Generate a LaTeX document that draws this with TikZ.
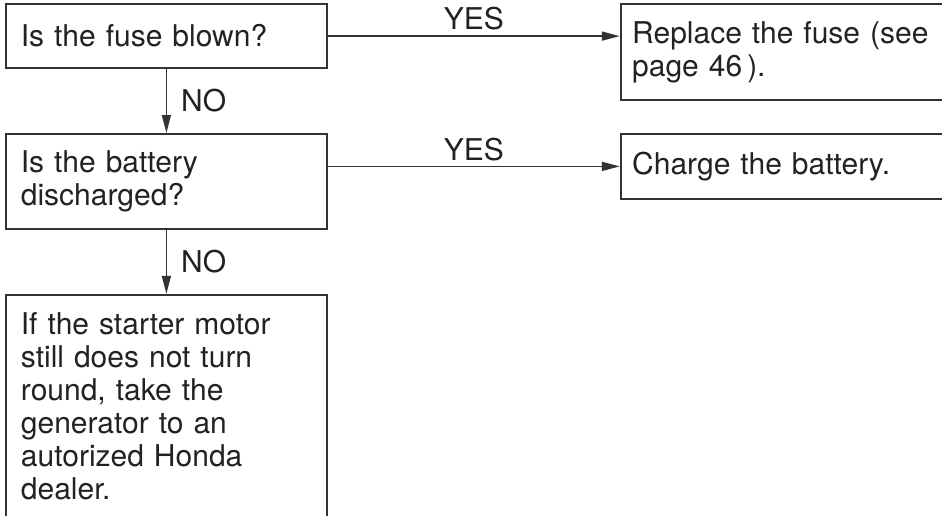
\documentclass[tikz,border=0pt]{standalone}
\usepackage{fontspec}
\setmainfont{TeX Gyre Heros}
\usetikzlibrary{positioning,arrows.meta}
\definecolor{boxLine}{RGB}{51,51,51}
\definecolor{boxText}{RGB}{34,34,34}
\tikzset{
  ask/.style={rectangle, draw=boxLine, line width=0.9pt, anchor=north west,
              inner xsep=7.5pt, align=left, text=boxText, text width=145.5pt},
  act/.style={ask, inner xsep=5.75pt, text width=150pt},
  flow/.style={-{Triangle[length=9pt, width=4.5pt]}, draw=boxLine, line width=0.8pt},
  answer/.style={text=boxText, inner sep=2.5pt},
}
\begin{document}
\fontsize{15pt}{16.5pt}\selectfont
\begin{tikzpicture}
  \useasboundingbox (0,0) rectangle (471pt,-257.5pt);
  \node[ask, minimum height=47.5pt] (battery) at (2.5pt,-66.5pt) {Is the battery\\discharged?};
  \node[ask, minimum height=32pt, above=32pt of battery.north west, anchor=south west] (fuse)
    {Is the fuse blown?};
  \node[act, minimum height=48pt, right=146pt of fuse.north east, anchor=north west] (replace)
    {Replace the fuse (see\\page 46\,).};
  \node[act, minimum height=32.5pt] (charge) at (replace.west |- battery.north) {Charge the battery.};
  \node[ask, minimum height=111.5pt, below=32pt of battery.south west, anchor=north west] (advice)
    {If the starter motor\\still does not turn\\round, take the\\generator to an\\autorized Honda\\dealer.};

  \draw[flow] (fuse.east) -- node[answer, above] {YES} (fuse.east -| replace.west);
  \draw[flow] (battery.east |- charge.west) -- node[answer, above] {YES} (charge.west);
  \draw[flow] (fuse.south) -- node[answer, right, xshift=4.5pt] {NO} (battery.north);
  \draw[flow] (battery.south) -- node[answer, right, xshift=4.5pt] {NO} (battery.south |- advice.north);
\end{tikzpicture}
\end{document}
